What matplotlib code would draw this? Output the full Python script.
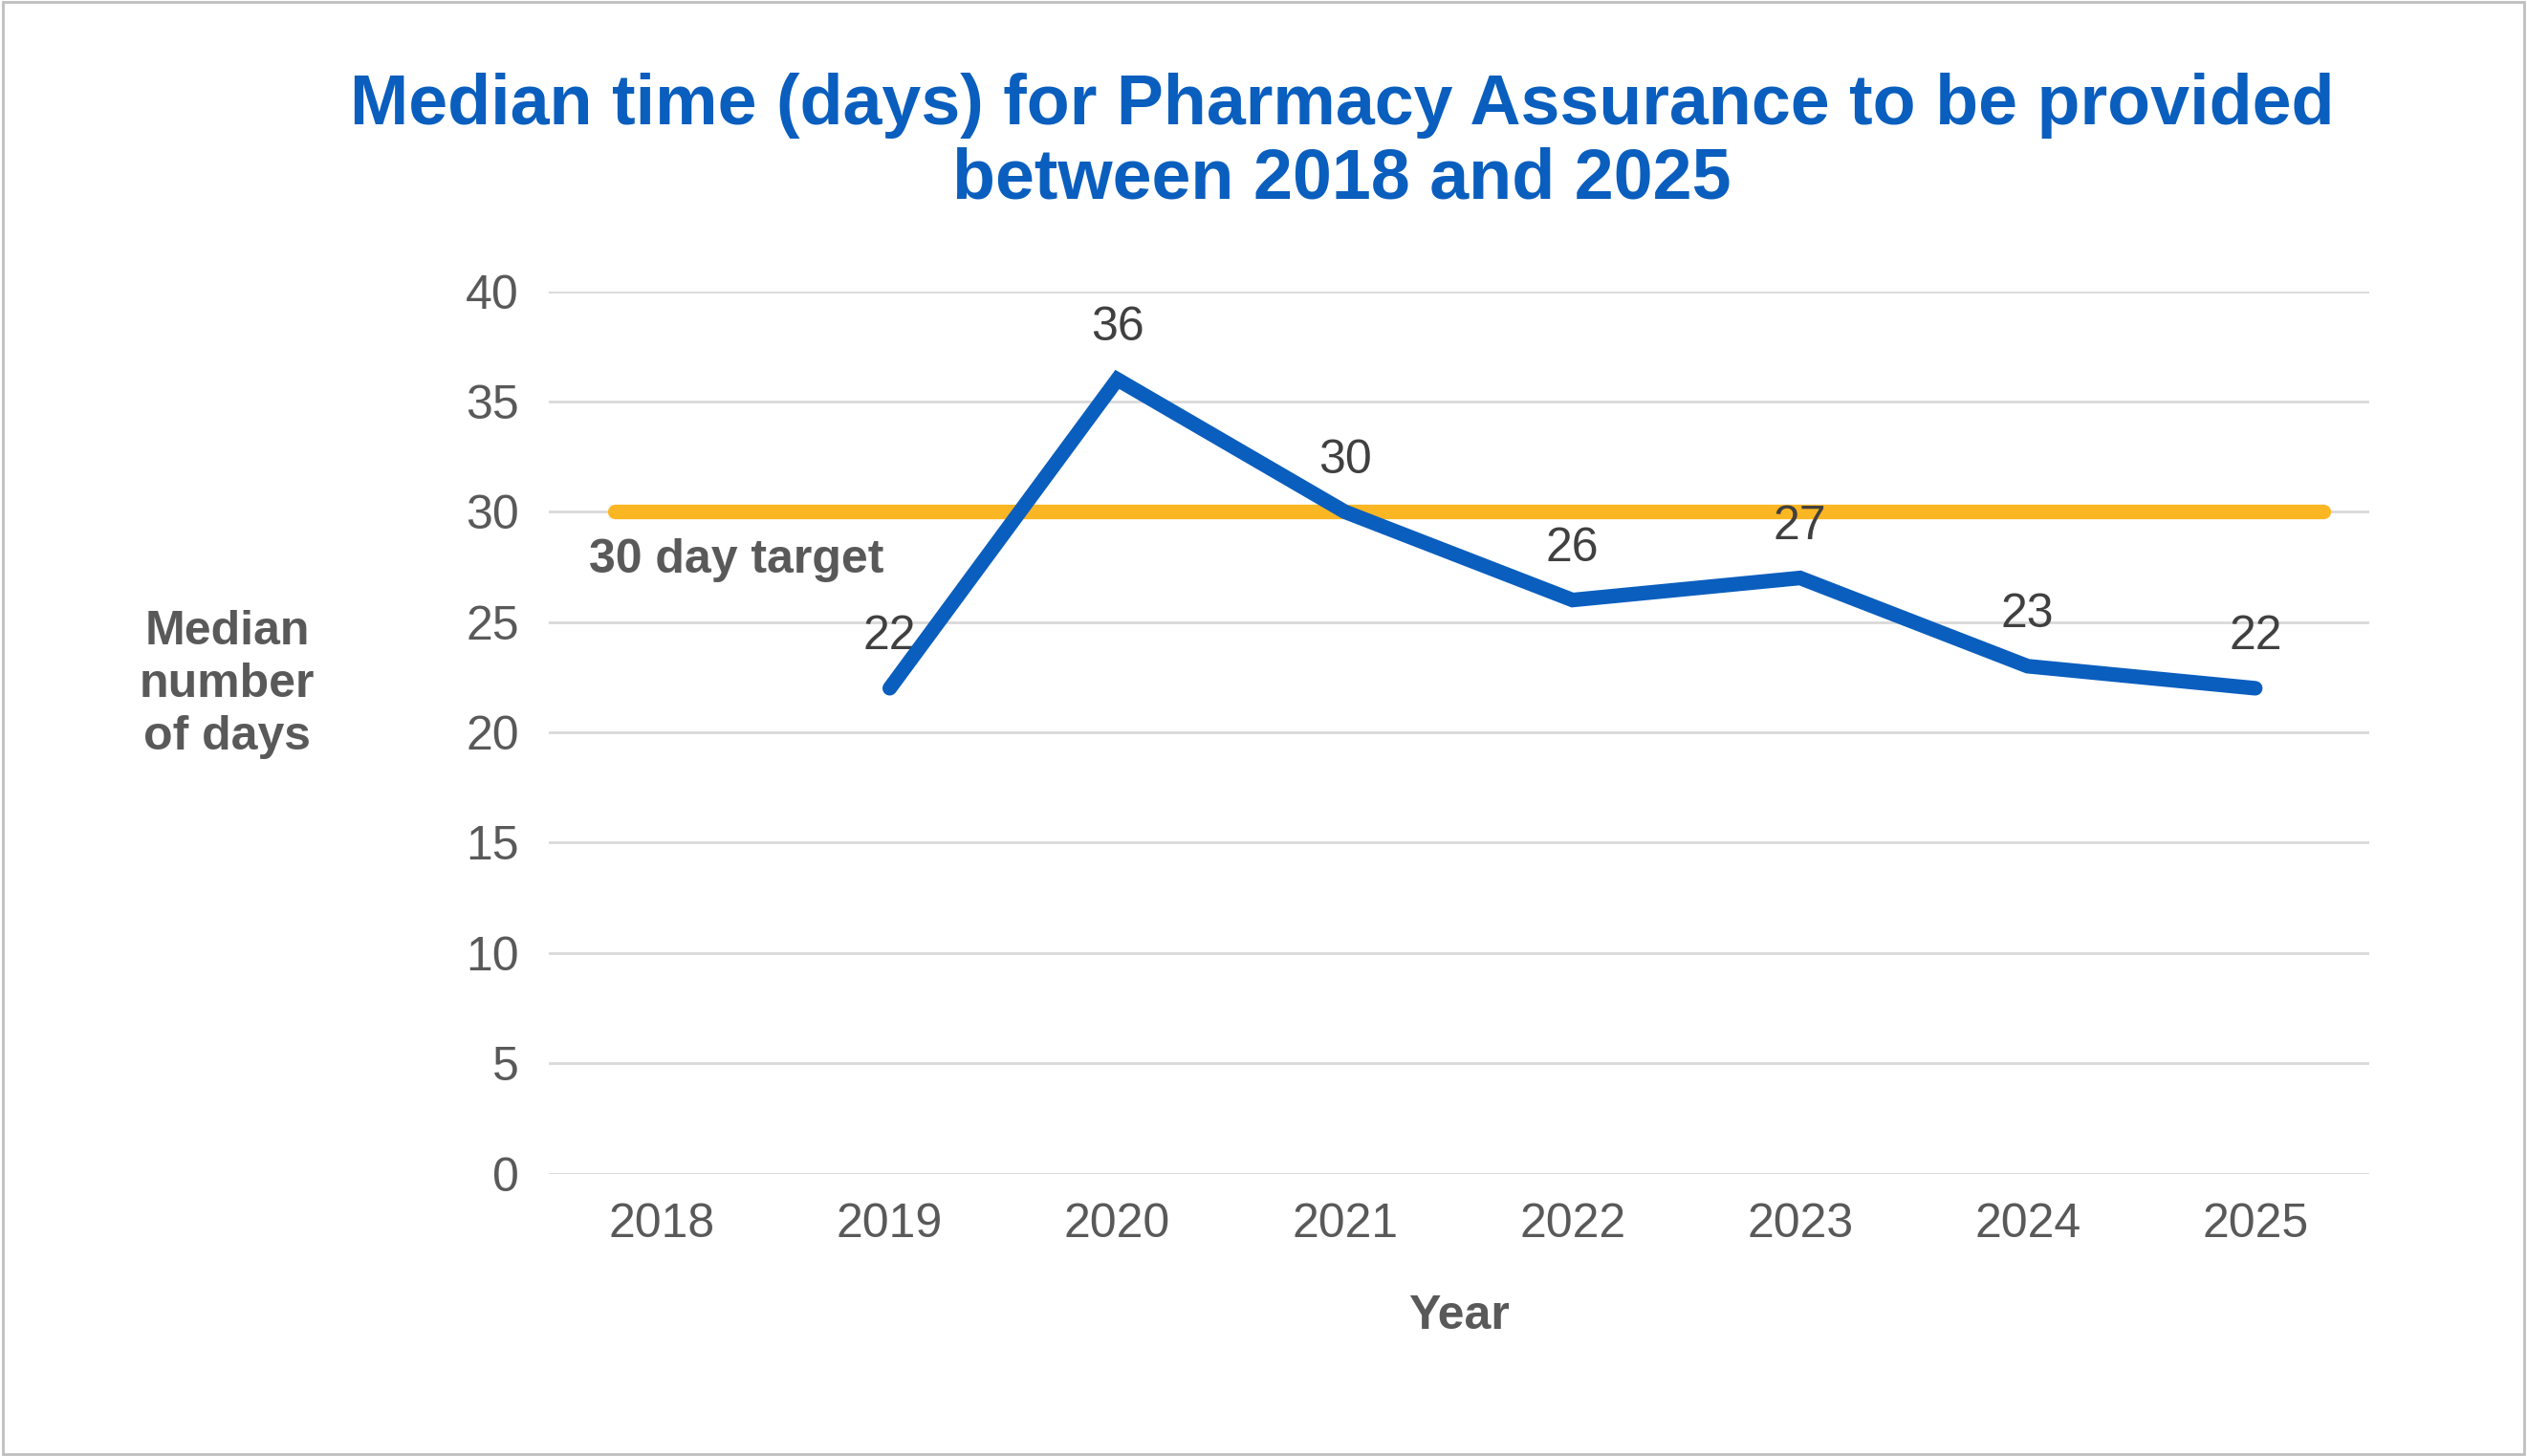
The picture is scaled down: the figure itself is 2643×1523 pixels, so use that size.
import matplotlib.pyplot as plt

plt.rcParams["font.family"] = ["Liberation Sans", "DejaVu Sans"]

years = ["2018", "2019", "2020", "2021", "2022", "2023", "2024", "2025"]
median_days = [None, 22, 36, 30, 26, 27, 23, 22]
target_days = 30
y_ticks = [0, 5, 10, 15, 20, 25, 30, 35, 40]

blue = "#0A5EBE"
orange = "#FBB623"
grey_text = "#595959"

fig = plt.figure(figsize=(26.43, 15.23), dpi=100)
ax = fig.add_axes([0.217, 0.194, 0.7205, 0.606])

ax.hlines(target_days, -0.21, 7.3, color=orange, lw=11, capstyle="round", zorder=3)

xs = [i for i, v in enumerate(median_days) if v is not None]
ys = [v for v in median_days if v is not None]
ax.plot(xs, ys, color=blue, lw=11, solid_capstyle="round", solid_joinstyle="miter", zorder=4)
for x, y in zip(xs, ys):
    ax.annotate(str(y), (x, y), xytext=(0, 22), textcoords="offset points",
                ha="center", va="bottom", fontsize=36, color="#404040")

ax.text(-0.32, 28.8, "30 day target", fontsize=36, fontweight="bold", color=grey_text,
        ha="left", va="top")

ax.set_xlim(-0.5, 7.5)
ax.set_ylim(0, 40)
ax.set_xticks(range(len(years)))
ax.set_xticklabels(years)
ax.set_yticks(y_ticks)
ax.tick_params(length=0, labelsize=36, labelcolor=grey_text, pad=22)
ax.grid(axis="y", color="#D9D9D9", lw=2)
ax.set_axisbelow(True)
for s in ax.spines.values():
    s.set_visible(False)

ax.set_xlabel("Year", fontsize=36, fontweight="bold", color=grey_text, labelpad=36)
fig.text(0.09, 0.53, "Median\nnumber\nof days", fontsize=36, fontweight="bold",
         color=grey_text, ha="center", va="center", linespacing=1.25)

fig.text(0.531, 0.902, "Median time (days) for Pharmacy Assurance to be provided\nbetween 2018 and 2025",
         fontsize=53, fontweight="bold", color=blue, ha="center", va="center", linespacing=1.15)

fig.patches.append(plt.Rectangle((0.001, 0.001), 0.998, 0.998, transform=fig.transFigure,
                                 fill=False, edgecolor="#BFBFBF", lw=2))

fig.savefig("out.png", dpi=100)
